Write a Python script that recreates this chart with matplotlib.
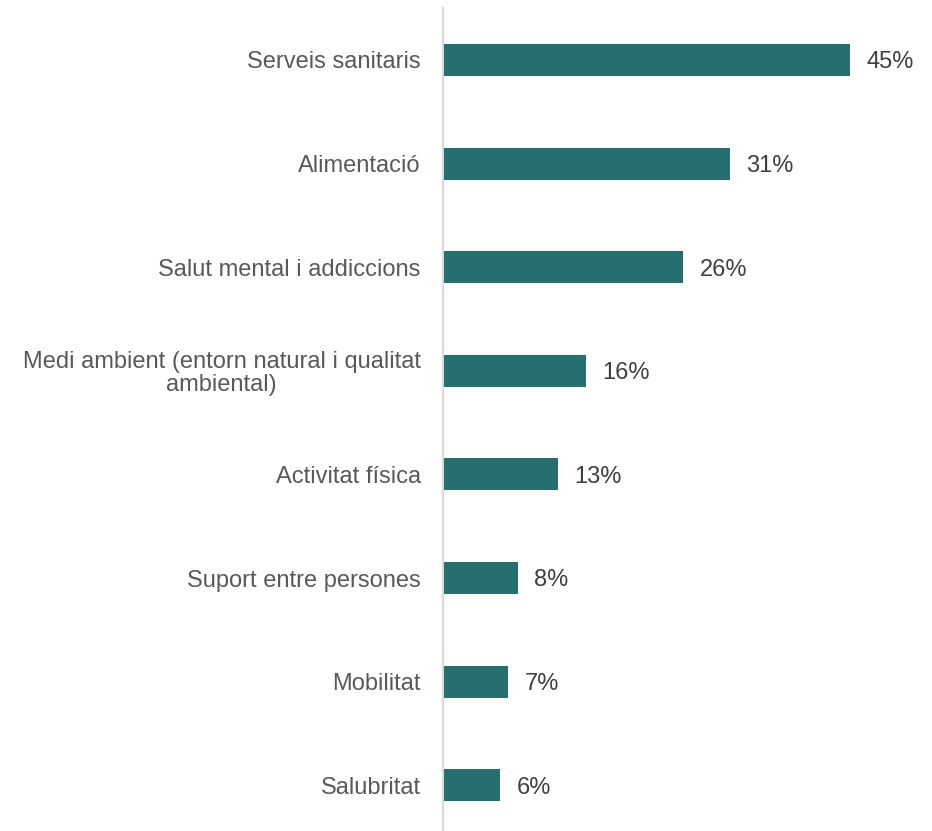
import matplotlib
matplotlib.use("Agg")
import matplotlib.pyplot as plt

categories = [
    "Serveis sanitaris",
    "Alimentació",
    "Salut mental i addiccions",
    "Medi ambient (entorn natural i qualitat\nambiental)",
    "Activitat física",
    "Suport entre persones",
    "Mobilitat",
    "Salubritat",
]
values = [44.7, 31.5, 26.4, 15.7, 12.6, 8.2, 7.1, 6.3]
labels = ["45%", "31%", "26%", "16%", "13%", "8%", "7%", "6%"]

plt.rcParams["font.family"] = ["Liberation Sans", "DejaVu Sans"]

W, H = 932, 831
fig = plt.figure(figsize=(W / 100, H / 100), dpi=100)
step = 103.6
top_px = 60 - step / 2
ax_h = step * len(categories)
ax = fig.add_axes([443 / W, (H - top_px - ax_h) / H, 455 / W, ax_h / H])

ypos = list(range(len(categories)))
ax.barh(ypos, values, height=0.31, color="#276E6E", zorder=2)
for y, v, lab in zip(ypos, values, labels):
    ax.text(v + 1.85, y, lab, va="center_baseline", ha="left", fontsize=17, color="#404040")

ax.set_ylim(len(categories) - 0.5, -0.5)
ax.set_xlim(0, 50)
ax.set_yticks(ypos)
ax.set_yticklabels(categories, fontsize=17, color="#595959", linespacing=1.05,
                   multialignment="center")
ax.tick_params(axis="y", length=0, pad=16)
ax.set_xticks([])
for s in ["top", "right", "bottom"]:
    ax.spines[s].set_visible(False)
ax.spines["left"].set_color("#D9D9D9")
ax.spines["left"].set_linewidth(1.5)
ax.spines["left"].set_zorder(3)

fig.savefig("out.png", dpi=100)
